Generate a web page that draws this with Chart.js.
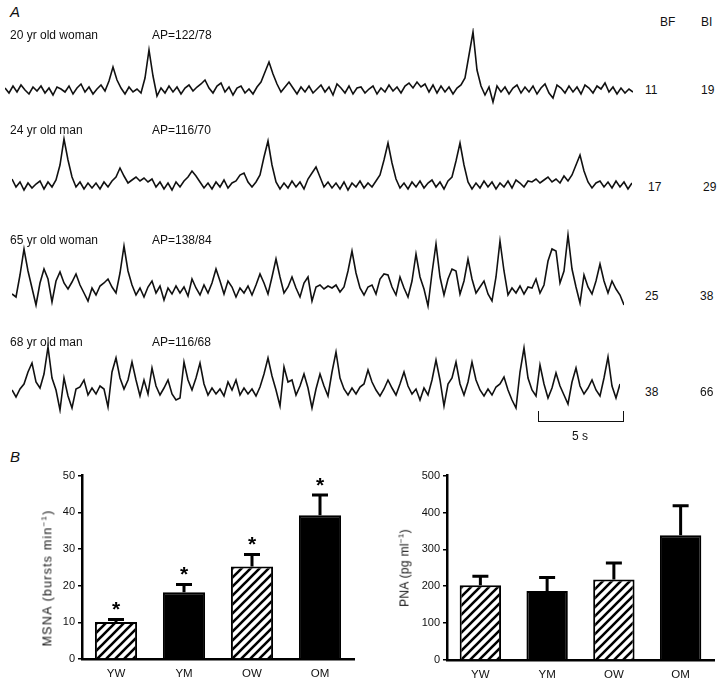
<!DOCTYPE html>
<html>
<head>
<meta charset="utf-8">
<script src="https://cdn.jsdelivr.net/npm/chart.js@4.4.1/dist/chart.umd.min.js"></script>
<style>
  body { margin: 0; width: 720px; height: 686px; position: relative; overflow: hidden; background: #fff;
         font-family: "Liberation Sans", Arial, sans-serif; color: #111; }
  canvas, .t { position: absolute; }
  .t { font-size: 12px; line-height: 12px; white-space: nowrap; }
  .big { font-size: 15px; font-style: italic; line-height: 16px; }
  .ytitle { transform: translate(-50%, -50%) rotate(-90deg); }
  .ytitle sup { font-size: 8px; }
  #bar5s { position: absolute; left: 538px; top: 411px; width: 84px; height: 10px;
           border: 1.5px solid #111; border-top: none; }
</style>
</head>
<body>
<canvas id="tr1" width="628" height="84" style="left:5px;top:28px"></canvas>
<canvas id="tr2" width="620" height="75" style="left:12px;top:130px"></canvas>
<canvas id="tr3" width="612" height="82" style="left:12px;top:229px"></canvas>
<canvas id="tr4" width="608" height="72" style="left:12px;top:342px"></canvas>
<canvas id="msna" width="336" height="219" style="left:20px;top:466px"></canvas>
<canvas id="pna" width="333" height="220" style="left:385px;top:466px"></canvas>

<div class="t big" style="left:10px;top:4px">A</div>
<div class="t" style="left:660px;top:16px">BF</div>
<div class="t" style="left:701px;top:16px">BI</div>

<div class="t" style="left:10px;top:29px">20 yr old woman</div>
<div class="t" style="left:152px;top:29px">AP=122/78</div>
<div class="t" style="left:645px;top:84px">11</div>
<div class="t" style="left:701px;top:84px">19</div>

<div class="t" style="left:10px;top:124px">24 yr old man</div>
<div class="t" style="left:152px;top:124px">AP=116/70</div>
<div class="t" style="left:648px;top:181px">17</div>
<div class="t" style="left:703px;top:181px">29</div>

<div class="t" style="left:10px;top:234px">65 yr old woman</div>
<div class="t" style="left:152px;top:234px">AP=138/84</div>
<div class="t" style="left:645px;top:290px">25</div>
<div class="t" style="left:700px;top:290px">38</div>

<div class="t" style="left:10px;top:336px">68 yr old man</div>
<div class="t" style="left:152px;top:336px">AP=116/68</div>
<div class="t" style="left:645px;top:386px">38</div>
<div class="t" style="left:700px;top:386px">66</div>

<div id="bar5s"></div>
<div class="t" style="left:572px;top:430px">5 s</div>

<div class="t big" style="left:10px;top:449px">B</div>
<div class="t ytitle" style="left:46px;top:578px;font-size:12.5px;letter-spacing:1.2px">MSNA (bursts min<sup>&minus;1</sup>)</div>
<div class="t ytitle" style="left:403px;top:568px;font-size:12px;letter-spacing:0.3px">PNA (pg ml<sup>&minus;1</sup>)</div>

<script>
// Panel A: MSNA neurograms, every 4 px (height above baseline, px)
const trace1 = [2,-3,4,-2,5,0,-4,3,-1,4, -3,2,-5,3,1,-2,4,-4,2,6, -2,3,-4,1,5,-1,9,23,10,2,
  -4,3,-2,1,-3,12,40,14,-6,2, -3,4,-2,3,-4,2,5,-1,3,6, 10,2,-3,4,7,-2,3,-5,2,4,
  -3,1,-4,3,8,18,28,16,6,-2, 3,8,2,-4,3,-2,4,-3,1,5, -2,3,-5,6,2,-3,4,-4,2,3,
  -3,1,4,-4,2,-2,5,-1,3,-3, 4,7,2,8,3,6,-2,5,-3,4, -2,3,-4,2,5,12,35,58,20,4,
  -5,3,-12,4,-2,3,-4,2,5,-3, 3,-2,4,-4,2,6,-3,-8,5,2, -3,4,-2,3,-4,5,2,-3,4,1,
  7,-2,3,-4,2,-3,1,-2];
const trace2 = [6,-2,3,-5,2,-3,1,4,-4,3, -2,5,20,46,25,8,-2,3,-4,2, -3,2,-4,3,-2,4,8,17,9,2,
  5,8,4,7,3,6,-2,3,-4,2, -5,3,-2,4,8,14,9,3,-3,2, -4,3,-2,5,-3,2,4,10,12,3,
  -2,3,10,28,44,20,3,-4,2,-3, 4,-2,3,-4,6,12,18,8,-2,3, -3,2,-4,3,-5,2,-2,4,-3,2,
  -2,4,10,25,42,22,6,-3,2,-4, 3,-2,4,-3,2,5,-2,3,-4,4, 8,24,42,20,3,-4,2,-3,4,-2,
  3,-4,2,-2,4,-3,5,2,-2,4, 3,6,2,5,8,3,6,2,9,4, 10,20,30,14,3,-3,2,4,-2,3,
  -3,4,-2,3,-4,2];
const trace3 = [-3,-6,16,42,20,3,-14,8,22,12, -11,10,19,8,2,9,17,6,-2,-10, 3,-4,5,8,12,4,-2,18,45,20,
  6,-4,3,-6,4,10,-2,5,-9,3, -3,5,-2,4,-5,12,3,-4,6,-2, 8,22,10,-3,10,4,-6,3,-2,5,
  -4,6,17,8,-3,14,32,14,-2,4, 14,3,-6,8,14,-10,4,6,2,5, 3,6,-1,4,20,40,18,3,-4,4,
  6,-3,12,17,16,4,-4,14,3,-6, 10,37,14,2,-15,18,47,14,-4,12, 22,20,-3,10,32,12,-2,4,10,-3,
  -10,14,50,20,-4,3,-2,5,-3,4, 3,12,-2,6,30,42,40,8,20,56, 22,4,-12,16,4,-3,10,27,10,-2,
  10,2,-4,-14];
const trace4 = [2,-5,3,8,20,29,10,4,18,45, 14,2,-18,14,-4,-16,3,5,12,-3, 4,-2,6,3,-15,20,34,14,3,12,
  30,12,-4,12,-2,24,6,-3,4,12, -2,-8,-6,30,12,2,14,29,8,-3, 4,-2,3,-4,10,2,12,-3,4,-2,
  3,-4,5,18,34,16,2,-14,25,10, 12,-3,6,18,4,-16,3,18,6,-4, 20,40,14,3,-3,4,-2,5,8,22,
  10,2,-4,3,12,4,-3,8,20,6, -2,3,-8,4,-3,12,32,12,-14,8, 14,30,8,-3,10,30,12,2,-4,3,
  -3,5,8,15,2,-8,-16,20,44,14, 2,-4,27,8,-6,4,19,6,-3,-12, 10,24,6,-2,4,12,2,-4,14,35,
  6,-6,8];

// Panel B
const groups = ['YW', 'YM', 'OW', 'OM'];
const msnaMean = [10.1, 18.2, 25.2, 39.2];
const msnaSem = [0.7, 2.1, 3.3, 5.5];
const msnaStar = [true, true, true, true];
const pnaMean = [203, 187, 218, 338];
const pnaSem = [24, 37, 45, 80];

const FONT = '"Liberation Sans", Arial, sans-serif';

function drawTrace(id, values, yMin, yMax) {
  new Chart(document.getElementById(id), {
    type: 'line',
    data: {
      datasets: [{
        data: values.map((v, i) => ({ x: i, y: v })),
        borderColor: '#111',
        borderWidth: 1.6,
        pointRadius: 0,
        tension: 0,
      }],
    },
    options: {
      responsive: false,
      animation: false,
      events: [],
      layout: { padding: 0 },
      plugins: { legend: { display: false }, tooltip: { enabled: false } },
      scales: {
        x: { type: 'linear', display: false, min: 0, max: values.length - 1 },
        y: { display: false, min: yMin, max: yMax },
      },
    },
  });
}

drawTrace('tr1', trace1, -22, 62);
drawTrace('tr2', trace2, -20, 55);
drawTrace('tr3', trace3, -20, 62);
drawTrace('tr4', trace4, -22, 50);

function hatch() {
  const c = document.createElement('canvas');
  c.width = c.height = 9;
  const g = c.getContext('2d');
  g.fillStyle = '#fff';
  g.fillRect(0, 0, 9, 9);
  g.strokeStyle = '#000';
  g.lineWidth = 2.6;
  g.beginPath();
  g.moveTo(-2, 11); g.lineTo(11, -2);
  g.moveTo(-2, 2); g.lineTo(2, -2);
  g.moveTo(7, 11); g.lineTo(11, 7);
  g.stroke();
  return g.createPattern(c, 'repeat');
}

// SEM bars (upward only) and significance stars
const errorBars = {
  id: 'errorBars',
  afterDatasetsDraw(chart, args, opts) {
    const ctx = chart.ctx;
    const y = chart.scales.y;
    chart.getDatasetMeta(0).data.forEach((bar, i) => {
      const top = y.getPixelForValue(opts.means[i] + opts.sem[i]);
      ctx.save();
      ctx.strokeStyle = '#000';
      ctx.lineWidth = 3;
      ctx.beginPath();
      ctx.moveTo(bar.x, bar.y);
      ctx.lineTo(bar.x, top);
      ctx.moveTo(bar.x - 8, top);
      ctx.lineTo(bar.x + 8, top);
      ctx.stroke();
      if (opts.stars && opts.stars[i]) {
        ctx.fillStyle = '#000';
        ctx.font = 'bold 21px ' + FONT;
        ctx.textAlign = 'center';
        ctx.textBaseline = 'middle';
        ctx.fillText('*', bar.x, top - 9);
      }
      ctx.restore();
    });
  },
};

function drawBars(id, means, sem, stars, yMax, step, pad) {
  const pat = hatch();
  new Chart(document.getElementById(id), {
    type: 'bar',
    data: {
      labels: groups,
      datasets: [{
        data: means,
        backgroundColor: [pat, '#000', pat, '#000'],
        borderColor: '#000',
        borderWidth: 2,
        barPercentage: 0.62,
        categoryPercentage: 1,
      }],
    },
    options: {
      responsive: false,
      animation: false,
      events: [],
      layout: { padding: pad },
      plugins: {
        legend: { display: false },
        tooltip: { enabled: false },
        errorBars: { means: means, sem: sem, stars: stars },
      },
      scales: {
        x: {
          grid: { display: true, drawOnChartArea: false, drawTicks: false },
          border: { color: '#000', width: 2.5 },
          ticks: { color: '#111', font: { size: 11.5, family: FONT }, padding: 8 },
          afterFit(s) { s.height = 26; },
        },
        y: {
          min: 0,
          max: yMax,
          ticks: { stepSize: step, color: '#111', font: { size: 11, family: FONT }, padding: 3 },
          grid: { display: true, drawOnChartArea: false, tickLength: 4, color: '#000', lineWidth: 1.5 },
          border: { color: '#000', width: 2.5 },
          afterFit(s) { s.width = 62; },
        },
      },
    },
    plugins: [errorBars],
  });
}

drawBars('msna', msnaMean, msnaSem, msnaStar, 50, 10, { top: 8, right: 2, left: 0, bottom: 0 });
drawBars('pna', pnaMean, pnaSem, null, 500, 100, { top: 9, right: 4, left: 0, bottom: 0 });
</script>
</body>
</html>
